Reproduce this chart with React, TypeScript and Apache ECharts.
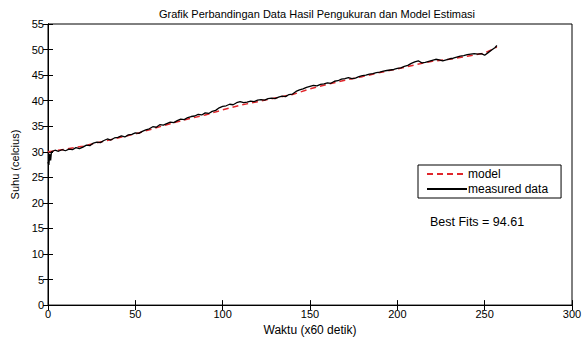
import React, { useEffect, useRef } from "react";
import * as echarts from "echarts";

const titleText = "Grafik Perbandingan Data Hasil Pengukuran dan Model Estimasi";
const xAxisName = "Waktu (x60 detik)";
const yAxisName = "Suhu (celcius)";
const fitLabel = "Best Fits = 94.61";

const measuredX = [0, 0.5, 1, 1.5, 2, 4, 6, 8, 10, 12, 14, 16, 18, 20, 22, 24, 26, 28, 30, 32, 34, 36, 38, 40, 42, 44, 46, 48, 50, 52, 54, 56, 58, 60, 62, 64, 66, 68, 70, 72, 74, 76, 78, 80, 82, 84, 86, 88, 90, 92, 94, 96, 98, 100, 102, 104, 106, 108, 110, 112, 114, 116, 118, 120, 122, 124, 126, 128, 130, 132, 134, 136, 138, 140, 142, 144, 146, 148, 150, 152, 154, 156, 158, 160, 162, 164, 166, 168, 170, 172, 174, 176, 178, 180, 182, 184, 186, 188, 190, 192, 194, 196, 198, 200, 202, 204, 206, 208, 210, 212, 214, 216, 218, 220, 222, 224, 226, 228, 230, 232, 234, 236, 238, 240, 242, 244, 246, 248, 250, 252, 254, 256, 257];
const measuredY = [28.0, 27.4, 29.6, 28.3, 30.0, 30.3, 30.1, 30.4, 30.2, 30.5, 30.4, 30.8, 30.6, 30.9, 31.3, 31.2, 31.7, 31.9, 31.8, 32.2, 32.5, 32.3, 32.7, 32.8, 33.1, 32.9, 33.3, 33.4, 33.7, 33.6, 34.0, 34.3, 34.5, 34.9, 34.8, 35.3, 35.2, 35.5, 35.8, 35.7, 36.1, 36.4, 36.3, 36.7, 36.9, 37.0, 37.3, 37.2, 37.6, 37.5, 37.9, 38.1, 38.6, 38.9, 39.0, 39.3, 39.2, 39.6, 39.8, 39.6, 39.7, 39.9, 39.8, 40.1, 40.2, 40.1, 40.4, 40.5, 40.4, 40.7, 40.9, 40.8, 41.2, 41.3, 41.8, 42.1, 42.3, 42.6, 42.8, 43.0, 42.9, 43.2, 43.3, 43.5, 43.4, 43.8, 43.9, 44.2, 44.3, 44.5, 44.3, 44.4, 44.7, 44.9, 45.0, 45.2, 45.3, 45.5, 45.6, 45.8, 45.9, 46.0, 46.1, 46.3, 46.4, 46.7, 46.9, 47.3, 47.6, 47.8, 47.4, 47.5, 47.7, 47.9, 48.1, 48.0, 47.8, 48.0, 48.2, 48.3, 48.5, 48.7, 48.8, 49.0, 49.1, 49.2, 49.1, 49.2, 48.9, 49.4, 49.9, 50.4, 50.8];

const modelX = [0, 10, 20, 30, 40, 50, 60, 70, 80, 90, 100, 110, 120, 130, 140, 150, 160, 170, 180, 190, 200, 210, 220, 230, 240, 250, 257];
const modelY = [30.0, 30.5, 31.1, 31.9, 32.7, 33.5, 34.5, 35.5, 36.4, 37.2, 38.2, 39.1, 39.8, 40.5, 41.2, 42.3, 43.2, 44.0, 44.7, 45.5, 46.2, 47.0, 47.7, 48.1, 48.7, 49.3, 50.5];

const FONT = "Liberation Sans, Arial, sans-serif";

export default function App() {
  const ref = useRef<HTMLDivElement>(null);
  useEffect(() => {
    if (!ref.current) return;
    const chart = echarts.init(ref.current, undefined, { renderer: "svg" });
    const tickStyle = { show: true, inside: true, length: 5, lineStyle: { color: "#000", width: 1 } };
    const labelStyle = { color: "#000", fontSize: 11, fontFamily: FONT };
    const nameStyle = { color: "#000", fontSize: 12, fontFamily: FONT };
    chart.setOption({
      animation: false,
      backgroundColor: "#fff",
      title: {
        text: titleText,
        left: 312,
        top: 3,
        textAlign: "center",
        textStyle: { color: "#000", fontSize: 11, fontWeight: "normal", fontFamily: FONT },
      },
      grid: { left: 48, right: 15, top: 24, bottom: 32, show: true, borderColor: "#000", borderWidth: 1 },
      legend: {
        orient: "vertical",
        left: 418,
        top: 165,
        backgroundColor: "#fff",
        borderColor: "#000",
        borderWidth: 1,
        padding: [3, 13, 3, 8],
        itemGap: 3,
        itemWidth: 40,
        itemHeight: 8,
        itemStyle: { opacity: 0 },
        textStyle: { color: "#000", fontSize: 12, fontFamily: FONT, padding: [0, 0, 0, -4] },
        data: ["model", "measured data"],
      },
      xAxis: [
        {
          type: "value",
          min: 0,
          max: 300,
          interval: 50,
          name: xAxisName,
          nameLocation: "middle",
          nameGap: 18,
          nameTextStyle: nameStyle,
          axisLine: { show: true, lineStyle: { color: "#000" } },
          axisTick: tickStyle,
          axisLabel: { ...labelStyle, margin: 3 },
          splitLine: { show: false },
        },
        {
          type: "value",
          position: "top",
          min: 0,
          max: 300,
          interval: 50,
          axisLine: { show: true, lineStyle: { color: "#000" } },
          axisTick: tickStyle,
          axisLabel: { show: false },
          splitLine: { show: false },
        },
      ],
      yAxis: [
        {
          type: "value",
          min: 0,
          max: 55,
          interval: 5,
          name: yAxisName,
          nameLocation: "middle",
          nameGap: 23,
          nameTextStyle: labelStyle,
          axisLine: { show: true, lineStyle: { color: "#000" } },
          axisTick: tickStyle,
          axisLabel: { ...labelStyle, margin: 4 },
          splitLine: { show: false },
        },
        {
          type: "value",
          position: "right",
          min: 0,
          max: 55,
          interval: 5,
          axisLine: { show: true, lineStyle: { color: "#000" } },
          axisTick: tickStyle,
          axisLabel: { show: false },
          splitLine: { show: false },
        },
      ],
      graphic: [
        {
          type: "text",
          left: 430,
          top: 215,
          style: { text: fitLabel, fill: "#000", fontSize: 12.5, fontFamily: FONT },
        },
      ],
      series: [
        {
          name: "model",
          type: "line",
          symbol: "none",
          data: modelX.map((x, i) => [x, modelY[i]]),
          lineStyle: { color: "#e0262b", width: 1.5, type: [6, 4] },
          itemStyle: { color: "#e0262b" },
          z: 2,
        },
        {
          name: "measured data",
          type: "line",
          symbol: "none",
          data: measuredX.map((x, i) => [x, measuredY[i]]),
          lineStyle: { color: "#000", width: 1.3 },
          itemStyle: { color: "#000" },
          z: 3,
        },
      ],
    });
    return () => chart.dispose();
  }, []);
  return <div ref={ref} style={{ position: "fixed", left: 0, top: 0, width: 587, height: 341 }} />;
}
